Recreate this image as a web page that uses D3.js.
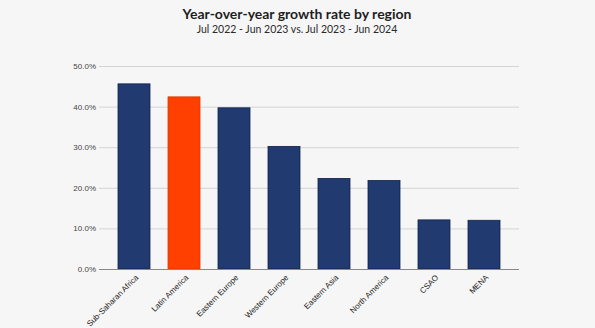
<!DOCTYPE html>
<html><head><meta charset="utf-8">
<script src="https://cdn.jsdelivr.net/npm/d3@7"></script>
<style>html,body{margin:0;padding:0;background:#f6f6f6;}svg{display:block;}</style>
</head><body>
<script>
const categories = ["Sub-Saharan Africa","Latin America","Eastern Europe","Western Europe","Eastern Asia","North America","CSAO","MENA"];
const values = [45.6, 42.4, 39.7, 30.2, 22.3, 21.8, 12.1, 12.0];
const highlight = ["Latin America"];
const yTicks = [0, 10, 20, 30, 40, 50];
const title = "Year-over-year growth rate by region";
const subtitle = "Jul 2022 - Jun 2023 vs. Jul 2023 - Jun 2024";

const W = 595, H = 328;
const svg = d3.select("body").append("svg").attr("width", W).attr("height", H);
svg.append("rect").attr("width", W).attr("height", H).attr("fill", "#f6f6f6");

const x = d3.scaleBand().domain(categories).range([99, 519]).paddingInner(0.36).paddingOuter(0.38);
const y = d3.scaleLinear().domain([0, 50]).range([269, 66]);

svg.append("text").attr("x", 297).attr("y", 19).attr("text-anchor", "middle")
  .attr("font-family", "Lato, 'Open Sans', sans-serif").attr("font-weight", "bold")
  .attr("font-size", 14).attr("fill", "#1e1e1e").text(title);
svg.append("text").attr("x", 297).attr("y", 33).attr("text-anchor", "middle")
  .attr("font-family", "Lato, 'Open Sans', sans-serif")
  .attr("font-size", 10.5).attr("fill", "#2a2a2a").text(subtitle);

// gridlines
const grid = svg.append("g").attr("transform", "translate(99,0)")
  .call(d3.axisLeft(y).tickValues(yTicks.slice(1)).tickSize(-420).tickFormat(""));
grid.select(".domain").remove();
grid.selectAll("line").attr("stroke", "#d4d4d4").attr("stroke-width", 1);

// y labels
const ya = svg.append("g").attr("transform", "translate(96,0)")
  .call(d3.axisLeft(y).tickValues(yTicks).tickSize(0).tickPadding(0).tickFormat(d => d.toFixed(1) + "%"));
ya.select(".domain").remove();
ya.selectAll("text").attr("font-family", "'Liberation Sans', Arial, sans-serif").attr("font-size", 8).attr("fill", "#444");

// bars
svg.append("g").selectAll("rect").data(categories).join("rect")
  .attr("x", d => x(d)).attr("width", x.bandwidth())
  .attr("y", (d, i) => y(values[i])).attr("height", (d, i) => y(0) - y(values[i]))
  .attr("fill", d => highlight.includes(d) ? "#ff4000" : "#213a6f")
  .attr("stroke", d => highlight.includes(d) ? "#e03800" : "#10224a").attr("stroke-width", 0.8);

// x axis
const xa = svg.append("g").attr("transform", "translate(0,269)")
  .call(d3.axisBottom(x).tickSize(0).tickPadding(0));
xa.select(".domain").attr("d", "M99,0.5H519").attr("stroke", "#888").attr("stroke-width", 1.2);
xa.selectAll("text").attr("font-family", "'Liberation Sans', Arial, sans-serif").attr("font-size", 8)
  .attr("fill", "#222").attr("text-anchor", "end").attr("dy", null).attr("y", 0)
  .attr("transform", "translate(5,9) rotate(-45)");
</script>
</body></html>
